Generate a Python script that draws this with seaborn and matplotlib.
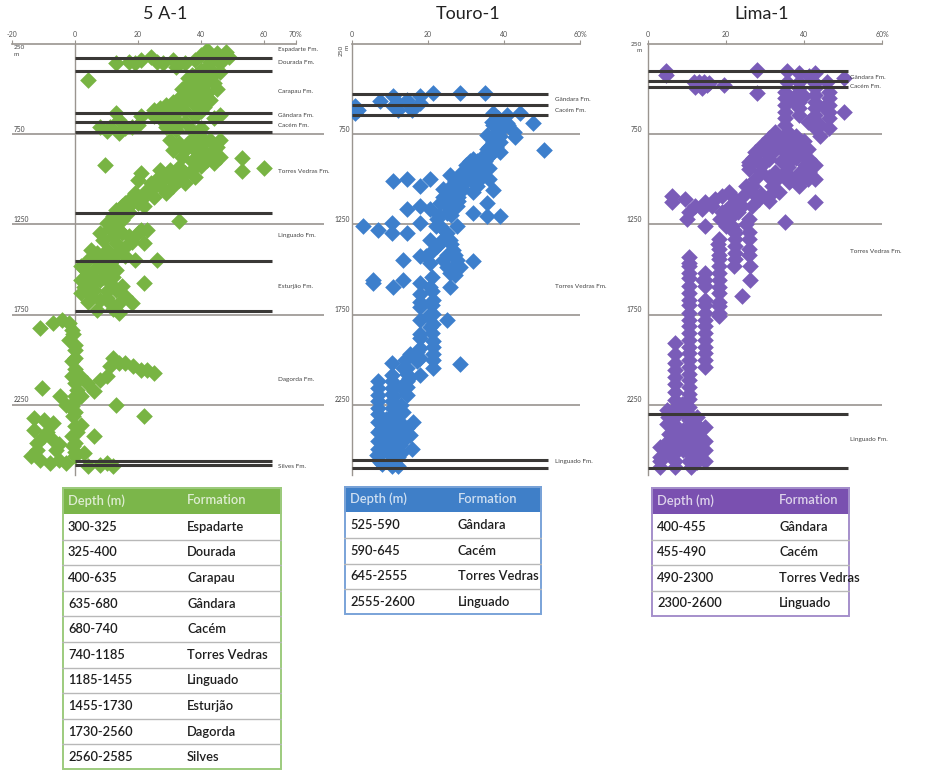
import matplotlib
matplotlib.use("Agg")
import matplotlib.pyplot as plt
import pandas as pd
import seaborn as sns
from matplotlib.patches import Rectangle

sns.set_theme(style="white")
plt.rcParams["font.family"] = ["Lato", "DejaVu Sans"]

W, H = 927, 770

# ---------------------------------------------------------------- data
# porosity (%) vs depth (m) samples per well
a1_samples = [
    (13, 357), (17, 348), (21, 339), (24, 320), (28, 357), (31, 339), (32, 376), (40, 311), (42, 283),
    (45, 302), (48, 293), (49, 320), (46, 357), (43, 348), (35, 357), (26, 348), (19, 357), (38, 338),
    (44, 320), (47, 330), (4, 449),
    (46, 403), (44, 412), (42, 431), (40, 449), (38, 468), (41, 477), (39, 504), (37, 523), (40, 541),
    (35, 560), (33, 551), (31, 569), (29, 588), (27, 606), (25, 615), (38, 588), (42, 523), (44, 468),
    (37, 421), (40, 394), (35, 624), (33, 615), (30, 624), (28, 643), (25, 652), (40, 624), (35, 680),
    (31, 671), (29, 689), (36, 440), (34, 500), (38, 430),
    (43, 440), (41, 460), (39, 480), (37, 500), (36, 540), (34, 580), (32, 600), (30, 650), (27, 660),
    (33, 690), (38, 650), (41, 600), (43, 560), (45, 500), (42, 380), (39, 420), (36, 470),
    (13, 634), (14, 671), (21, 652), (18, 708), (16, 717), (11, 708), (8, 708), (14, 745), (46, 643),
    (44, 661), (29, 708), (32, 726), (37, 726), (40, 717), (10, 730), (20, 700),
    (30, 782), (33, 800), (37, 782), (40, 763), (43, 782), (46, 782), (31, 837), (35, 837), (40, 818),
    (44, 837), (46, 874), (39, 874), (42, 892), (34, 874), (44, 911), (40, 929), (35, 966), (38, 985),
    (33, 1003), (29, 985), (27, 948), (21, 966), (20, 1003), (24, 1022), (27, 1040), (23, 1059),
    (19, 1077), (25, 1096), (21, 1114), (16, 1132), (13, 1169), (29, 1077), (31, 1040), (35, 1022),
    (22, 1151), (18, 1132),
    (36, 800), (38, 840), (42, 860), (37, 900), (33, 930), (30, 950), (31, 1010), (26, 1000),
    (24, 1060), (22, 1090), (18, 1100), (15, 1150), (20, 1130), (17, 1180), (14, 1200), (41, 790),
    (45, 820), (37, 950), (33, 970),
    (9.5, 920), (53, 883), (53, 957), (60, 938), (33, 1234),
    (12, 1206), (15, 1225), (10, 1243), (14, 1280), (8, 1299), (12, 1317), (17, 1317), (21, 1280),
    (23, 1280), (22, 1354), (16, 1373), (13, 1354), (10, 1391), (7, 1409), (5, 1391), (4, 1446),
    (8, 1446), (12, 1446), (16, 1428), (19, 1446), (26, 1446), (9, 1336),
    (13, 1230), (11, 1270), (15, 1300), (18, 1350), (20, 1300), (14, 1400), (11, 1420), (6, 1430),
    (2, 1483), (4, 1520), (6, 1502), (8, 1483), (11, 1464), (13, 1502), (2, 1557), (4, 1594),
    (8, 1557), (11, 1576), (13, 1613), (15, 1594), (2, 1631), (5, 1650), (8, 1668), (11, 1687),
    (14, 1687), (18, 1687), (7, 1723), (14, 1742), (22, 1576), (9, 1540), (6, 1613),
    (3, 1500), (5, 1540), (10, 1520), (12, 1540), (3, 1600), (6, 1570), (10, 1620), (4, 1680),
    (10, 1660), (16, 1650), (12, 1720),
    (-11, 1825), (-7, 1797), (-4, 1779), (-2, 1797), (-1, 1834), (-2, 1890), (0, 1945), (0, 1991),
    (-1, 2093), (0, 2130), (0.5, 2167), (0, 2204), (-1, 2259), (-0.5, 2315), (0, 2370), (-1, 2425),
    (-0.5, 2481), (0, 2536), (1.6, 2093), (3.7, 2130), (6, 2176), (-4.8, 2204), (-10.6, 2157),
    (13, 2250), (8, 2111), (10, 2093), (12, 1991), (14, 2019), (16, 2019), (18.5, 2037), (21, 2056),
    (23, 2056), (25, 2074), (11, 2037), (22, 2315), (-0.5, 1860), (0, 1920), (-1, 2010), (0, 2050),
    (0, 2230), (0, 2290), (0.5, 2400), (0, 2460), (0, 2510), (2, 2200), (-3, 2250),
    (-13, 2324), (-10, 2333), (-7, 2351), (-13, 2388), (-10, 2425), (-7, 2444), (-12, 2462),
    (-14, 2536), (-11, 2555), (-6, 2499), (-5, 2555), (-3, 2573), (-8, 2573), (6, 2425), (4, 2592),
    (10, 2573), (12, 2592), (8, 2585), (-12, 2500), (-9, 2400), (-5, 2470), (3, 2520), (2, 2360),
]

touro_samples = [
    (0.8, 596), (0.8, 633), (1.7, 615), (7.4, 568), (10.9, 540), (10.9, 596), (12.2, 577), (14.4, 559),
    (15.7, 615), (17.9, 540), (21.4, 521), (28.4, 521), (35.0, 521), (14.4, 577), (12.2, 615),
    (17.9, 577), (1.0, 610),
    (37.2, 633), (38.5, 661), (40.7, 643), (44.2, 633), (47.7, 689), (42.5, 736), (39.8, 718),
    (38.1, 736), (38.9, 792), (37.2, 792), (35.4, 755), (35.4, 830), (38.9, 848), (42.9, 764),
    (50.4, 839), (40.7, 689), (36.8, 680), (37.0, 700), (39.0, 760), (41.0, 700),
    (31.9, 886), (32.8, 923), (31.1, 942), (33.7, 961), (30.2, 979), (28.4, 998), (31.9, 1017),
    (33.7, 998), (29.3, 1054), (27.5, 1073), (25.8, 979), (24.0, 1054), (25.8, 1110), (27.5, 1148),
    (23.2, 1129), (24.9, 1185), (22.3, 1222), (23.2, 1260), (24.9, 1297), (27.5, 1260), (31.9, 1185),
    (35.4, 1204), (38.9, 1204), (35.4, 1129), (31.9, 1073), (20.5, 998), (17.9, 1035), (14.4, 998),
    (10.9, 1007), (17.9, 1148), (20.5, 1166), (14.4, 1166), (17.9, 1241), (14.4, 1297), (10.4, 1241),
    (10.4, 1297), (6.9, 1279), (3.0, 1260), (20.5, 1335), (21.4, 1391), (23.2, 1353),
    (35, 900), (36, 940), (34, 930), (30, 920), (29, 960), (33, 1040), (36, 1000), (37, 1060),
    (28, 1100), (26, 1040),
    (34, 880), (36, 870), (37, 850), (38, 820), (36, 820), (33, 900), (31, 900), (32, 960), (34, 980),
    (30, 1000), (29, 1030), (27, 1010), (26, 1080), (28, 1120), (24, 1100), (25, 1150), (23, 1200),
    (26, 1200), (22, 1260), (24, 1330), (26, 1360), (27, 1420), (25, 1420), (26, 1500), (27, 1530),
    (25.8, 1335), (26.7, 1391), (27.5, 1447), (28.4, 1484), (25.8, 1522), (24.9, 1484), (24.0, 1447),
    (25.8, 1596), (31.9, 1456), (22.3, 1372), (19.6, 1428), (17.9, 1428), (20.5, 1466), (13.5, 1447),
    (13.5, 1559), (10.9, 1596), (5.6, 1559), (5.6, 1578), (17.9, 1578), (17.9, 1634), (20.5, 1596),
    (21.4, 1671), (21.4, 1746), (20.5, 1821), (21.4, 1896), (21.4, 1970), (21.4, 2045), (24.9, 1783),
    (17.9, 1709), (17.9, 1858), (17.9, 1933), (17.0, 2008), (17.9, 2083), (15.3, 1970), (14.4, 2045),
    (14.4, 2120), (14.4, 2195), (13.5, 2045), (28.4, 2027), (10.4, 2083), (10.4, 2157), (10.4, 2232),
    (10.4, 2307), (10.0, 2382), (10.9, 2457), (10.9, 2531), (10.4, 2588), (6.9, 2120), (6.9, 2195),
    (6.9, 2270), (6.9, 2344), (6.9, 2494), (7.4, 2569), (6.5, 2531), (12.6, 2344), (14.4, 2382),
    (15.3, 2419), (16.1, 2344), (15.7, 2494), (12.6, 2475), (12.2, 2588), (9.1, 2513), (13.5, 2288),
    (8.7, 2419), (11.8, 2419),
    (21.4, 1800), (21.4, 1930), (21.4, 2000), (17.9, 1780), (17.9, 1990), (10.4, 2020), (10.4, 2120),
    (10.4, 2190), (10.4, 2270), (10.4, 2350), (10.4, 2420), (6.9, 2160), (6.9, 2230), (6.9, 2300),
    (6.9, 2400), (6.9, 2450), (14.4, 2080), (14.4, 2150), (12.0, 2540), (8.0, 2580),
    (21, 1540), (21, 1620), (21, 1700), (21, 1850), (20, 1760), (18, 1680), (18, 1880), (17, 1960),
    (14, 2000), (15, 2100), (13, 2150), (11, 2200), (13, 2250), (11, 2300), (9, 2330), (8, 2380),
    (13, 2380), (12, 2450), (9, 2470), (7, 2530), (11, 2500), (13, 2520), (11, 2570), (14, 2440),
]

lima_samples = [
    (4.6, 398), (4.6, 421), (11.7, 458), (13.0, 458), (14.3, 458), (15.6, 467), (19.4, 476), (12.1, 486),
    (13.8, 495), (15.1, 476), (27.9, 393), (27.9, 523), (35.6, 402), (35.6, 458), (38.6, 411),
    (38.6, 458), (41.2, 430), (42.9, 411), (42.9, 467), (45.9, 458), (50.2, 439), (50.2, 625),
    (46.3, 514), (38.6, 514),
    (35.2, 514), (35.2, 551), (35.2, 588), (35.2, 625), (35.2, 663), (35.2, 700),
    (38.6, 495), (38.6, 532), (38.6, 569), (38.6, 607), (38.6, 644),
    (42.9, 495), (42.9, 532), (42.9, 569), (42.9, 607), (42.9, 644), (42.9, 681), (42.9, 718),
    (46.3, 551), (46.3, 588), (46.3, 625), (46.3, 663), (46.3, 718),
    (32.6, 737), (30.9, 774), (29.2, 811), (27.5, 849), (25.8, 904), (25.8, 942), (32.6, 811),
    (34.4, 774), (35.2, 849), (36.9, 886), (30.9, 886), (29.2, 923), (32.6, 960), (35.2, 960),
    (31.8, 1035), (33.5, 1072), (30.9, 1091), (36.1, 1016), (38.6, 811), (39.5, 849), (41.2, 886),
    (40.3, 923), (42.9, 923), (41.2, 960), (42.9, 998), (39.5, 998), (38.6, 1035), (42.9, 1128),
    (27.5, 998), (25.0, 1035), (26.7, 1072), (28.4, 1109), (26.7, 1146), (24.1, 1146), (22.4, 1109),
    (20.7, 1072), (19.0, 1091), (17.3, 1109), (16.4, 1146), (14.7, 1128), (13.8, 1165), (12.1, 1146),
    (10.4, 1184), (9.6, 1109), (6.2, 1091), (6.2, 1128), (10.0, 1221), (14.7, 1258), (18.5, 1221),
    (20.7, 1221), (21.5, 1258), (22.4, 1184), (35.2, 1239), (25.8, 1221),
    (33, 760), (31, 800), (29, 840), (27, 880), (26, 920), (28, 900), (30, 850), (32, 850), (34, 820),
    (36, 800), (37, 840), (38, 880), (34, 900), (36, 930), (33, 1000), (31, 990), (29, 960),
    (27, 1040), (29, 1080), (31, 1120), (40, 870), (41, 830), (39, 960), (41, 1000), (37, 1000),
    (24, 1100), (23, 1180), (21, 1150), (19, 1180), (20, 1260), (22, 1280), (25, 1250), (26, 1330),
    (26, 1420), (22, 1480), (18, 1360), (14, 1560), (35, 770), (36, 740), (38, 760), (40, 790),
    (44, 760), (44, 700), (41, 680), (45, 600), (37, 560), (40, 540),
    (22.4, 1332), (22.4, 1407), (22.4, 1444), (25.8, 1295), (25.8, 1388), (26.2, 1481), (26.2, 1556),
    (24.1, 1649), (22.4, 1370), (22.4, 1300),
    (18.1, 1332), (18.1, 1388), (18.1, 1444), (18.1, 1481), (18.1, 1556), (18.1, 1630), (18.1, 1705),
    (18.1, 1760), (18.1, 1420), (18.1, 1520), (18.1, 1600), (18.1, 1680), (18.1, 1740),
    (14.7, 1519), (14.7, 1593), (14.7, 1667), (14.7, 1742), (14.7, 1816), (14.7, 1891), (14.7, 1965),
    (14.7, 2040), (14.7, 1560), (14.7, 1700), (14.7, 1850), (14.7, 2000), (14.7, 1780), (14.7, 1930),
    (10.4, 1463), (10.4, 1519), (10.4, 1593), (10.4, 1667), (10.4, 1742), (10.4, 1816), (10.4, 1891),
    (10.4, 1965), (10.4, 2040), (10.4, 2114), (10.4, 2189), (10.4, 2263), (10.4, 2337), (10.4, 2412),
    (10.4, 2486), (10.4, 2561), (10.4, 1430), (10.4, 1550), (10.4, 1700), (10.4, 1850), (10.4, 2000),
    (10.4, 2150), (10.4, 2300), (10.4, 2450), (10.4, 1480), (10.4, 1630), (10.4, 1780), (10.4, 1930),
    (10.4, 2080), (10.4, 2220), (10.4, 2380), (10.4, 2520),
    (7.0, 1909), (7.0, 2021), (7.0, 2095), (7.0, 2133), (7.0, 2226), (7.0, 2319), (7.0, 2412),
    (7.0, 2486), (7.0, 2561), (7.0, 1970), (7.0, 2060), (7.0, 2180), (7.0, 2270), (7.0, 2360),
    (7.0, 2450), (7.0, 2520),
    (4.9, 2282), (4.9, 2356), (3.2, 2486), (3.2, 2542), (14.7, 2449), (14.7, 2561), (12.6, 2319),
    (12.6, 2412), (12.6, 2524), (8.7, 2244), (14.7, 2375), (5.3, 2412), (8.7, 2449), (10.9, 2598),
    (7.0, 2598), (3.2, 2598), (12.6, 2360), (12.6, 2470), (12.6, 2570), (5.0, 2320), (9.0, 2290),
    (9.0, 2390), (9.0, 2500), (14.7, 2500), (3.2, 2560), (5.0, 2450), (5.0, 2520),
]

# formation tops drawn as dark lines (m)
a1_tops = [325, 400, 635, 680, 740, 1185, 1455, 1730, 2560, 2585]
touro_tops = [525, 590, 645, 2555, 2600]
lima_tops = [400, 455, 490, 2300, 2600]

# formation names beside each log, with the depth they sit at
a1_fm_names = ["Espadarte Fm.", "Dourada Fm.", "Carapau Fm.", "Gândara Fm.", "Cacém Fm.",
               "Torres Vedras Fm.", "Linguado Fm.", "Esturjão Fm.", "Dagorda Fm.", "Silves Fm."]
a1_fm_depths = [283, 350, 516, 649, 704, 959, 1314, 1596, 2111, 2593]
touro_fm_names = ["Gândara Fm.", "Cacém Fm.", "Torres Vedras Fm.", "Linguado Fm."]
touro_fm_depths = [560, 616, 1596, 2566]
lima_fm_names = ["Gândara Fm.", "Cacém Fm.", "Torres Vedras Fm.", "Linguado Fm."]
lima_fm_depths = [438, 483, 1402, 2444]

depth_grid = [750, 1250, 1750, 2250]

# formation tables
a1_table_depth = ["300-325", "325-400", "400-635", "635-680", "680-740", "740-1185",
                  "1185-1455", "1455-1730", "1730-2560", "2560-2585"]
a1_table_fm = ["Espadarte", "Dourada", "Carapau", "Gândara", "Cacém", "Torres Vedras",
               "Linguado", "Esturjão", "Dagorda", "Silves"]
touro_table_depth = ["525-590", "590-645", "645-2555", "2555-2600"]
touro_table_fm = ["Gândara", "Cacém", "Torres Vedras", "Linguado"]
lima_table_depth = ["400-455", "455-490", "490-2300", "2300-2600"]
lima_table_fm = ["Gândara", "Cacém", "Torres Vedras", "Linguado"]

GREEN, BLUE, PURPLE = "#78b443", "#3d7fcc", "#7a5cb8"

# ---------------------------------------------------------------- helpers
def px_axes(fig, x0, y0, x1, y1):
    return fig.add_axes([x0 / W, 1 - y1 / H, (x1 - x0) / W, (y1 - y0) / H])


def draw_log(fig, rect, xlim, samples, color, tops, top_span, grid_span, axis_span,
             xticks, xticklabels, fm_names, fm_depths, fm_x, title, title_x,
             depth_label_x, depth_label_ha, top_label_style):
    ax = px_axes(fig, *rect)
    df = pd.DataFrame(samples, columns=["porosity", "depth"])
    ax.hlines(depth_grid, grid_span[0], grid_span[1], color="#8f8a86", lw=1.1, zorder=1)
    sns.scatterplot(data=df, x="porosity", y="depth", marker="D", s=72, color=color,
                    linewidth=0, legend=False, ax=ax, zorder=3)
    ax.hlines(tops, top_span[0], top_span[1], color="#3a3836", lw=2.2, zorder=4)
    ax.set_xlim(*xlim)
    ax.set_ylim(2640, 250)
    ax.set_xlabel("")
    ax.set_ylabel("")
    ax.set_facecolor("none")
    for s in ("right", "bottom"):
        ax.spines[s].set_visible(False)
    ax.spines["top"].set_bounds(*axis_span)
    ax.spines["top"].set_color("#9a9590")
    ax.spines["top"].set_linewidth(1.2)
    ax.spines["left"].set_position(("data", 0))
    ax.spines["left"].set_bounds(250, 2640)
    ax.spines["left"].set_color("#9a9590")
    ax.spines["left"].set_linewidth(1.0)
    ax.xaxis.tick_top()
    ax.set_xticks(xticks)
    ax.set_xticklabels(xticklabels)
    ax.tick_params(axis="x", direction="out", length=3, width=0.8, color="#9a9590",
                   labelsize=5, labelcolor="#555", pad=1)
    ax.set_yticks([])

    for name, d in zip(fm_names, fm_depths):
        ax.text(fm_x, d, name, fontsize=4.6, color="#444", va="center", ha="left",
                clip_on=False)
    for d in depth_grid:
        ax.text(depth_label_x, d - 8, str(d), fontsize=4.8, color="#444", va="bottom",
                ha=depth_label_ha, clip_on=False)
    ax.text(depth_label_x, 250 + top_label_style[0], "250\nm", fontsize=4.6, color="#444",
            va="top", ha=depth_label_ha, linespacing=1.3, rotation=top_label_style[1],
            clip_on=False)
    fig.text(title_x / W, 1 - 14 / H, title, fontsize=13, color="#222", ha="center",
             va="center")
    return ax


def draw_table(fig, rect, header_h, row_h, col2, header_color, line_color, depths, fms):
    x0, y0, x1, y1 = rect
    ax = px_axes(fig, x0, y0, x1, y1)
    w, h = x1 - x0, y1 - y0
    ax.set_xlim(0, w)
    ax.set_ylim(h, 0)
    ax.axis("off")
    ax.add_patch(Rectangle((0, 0), w, header_h, facecolor=header_color, edgecolor="none"))
    ax.text(6, header_h / 2, "Depth (m)", fontsize=9.3, color="white", alpha=0.75,
            va="center", ha="left", weight="semibold")
    ax.text(col2, header_h / 2, "Formation", fontsize=9.3, color="white", alpha=0.75,
            va="center", ha="left", weight="semibold")
    for i, (d, f) in enumerate(zip(depths, fms)):
        top = header_h + i * row_h
        ax.text(6, top + row_h / 2, d, fontsize=9.3, color="#1e1e1e", va="center", ha="left",
                weight="semibold")
        ax.text(col2, top + row_h / 2, f, fontsize=9.3, color="#1e1e1e", va="center", ha="left",
                weight="semibold")
        if i > 0:
            ax.plot([0, w], [top, top], color="#b8b8b8", lw=1.0)
    ax.add_patch(Rectangle((0.6, 0.6), w - 1.2, h - 1.2, facecolor="none",
                           edgecolor=line_color, lw=1.4))
    return ax


# ---------------------------------------------------------------- figure
fig = plt.figure(figsize=(W / 100, H / 100), dpi=100, facecolor="white")

draw_log(fig, (12, 44, 327, 475), (-20, 80), a1_samples, GREEN, a1_tops,
         top_span=(0, 62.5), grid_span=(-20, 79), axis_span=(-20, 70),
         xticks=[-20, 0, 20, 40, 60, 70], xticklabels=["-20", "0", "20", "40", "60", "70%"],
         fm_names=a1_fm_names, fm_depths=a1_fm_depths, fm_x=64.3,
         title="5 A-1", title_x=165, depth_label_x=-19.5, depth_label_ha="left",
         top_label_style=(8, 0))

draw_log(fig, (352, 44, 618, 475), (0, 70), touro_samples, BLUE, touro_tops,
         top_span=(0, 51.6), grid_span=(0, 60), axis_span=(0, 60),
         xticks=[0, 20, 40, 60], xticklabels=["0", "20", "40", "60%"],
         fm_names=touro_fm_names, fm_depths=touro_fm_depths, fm_x=53.4,
         title="Touro-1", title_x=468, depth_label_x=-0.6, depth_label_ha="right",
         top_label_style=(5, 90))

draw_log(fig, (648, 44, 921, 475), (0, 70), lima_samples, PURPLE, lima_tops,
         top_span=(0, 51.3), grid_span=(0, 60), axis_span=(0, 60),
         xticks=[0, 20, 40, 60], xticklabels=["0", "20", "40", "60%"],
         fm_names=lima_fm_names, fm_depths=lima_fm_depths, fm_x=51.8,
         title="Lima-1", title_x=762, depth_label_x=-1.5, depth_label_ha="right",
         top_label_style=(-10, 0))

draw_table(fig, (62, 487, 282, 770), 27, 25.6, 125, "#7bb64a", "#9dcb7e",
           a1_table_depth, a1_table_fm)
draw_table(fig, (344, 486, 542, 615), 26, 25.75, 114, "#3f7fc8", "#7aa3d8",
           touro_table_depth, touro_table_fm)
draw_table(fig, (651, 487, 850, 617), 27, 25.5, 128, "#7a50b0", "#a58fcb",
           lima_table_depth, lima_table_fm)

fig.savefig("out.png", dpi=100, facecolor="white")
